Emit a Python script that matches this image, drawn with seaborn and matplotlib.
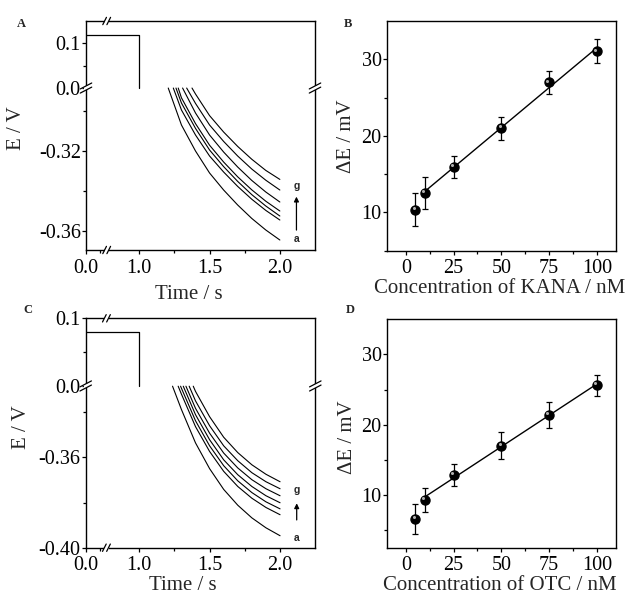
import numpy as np
import matplotlib
matplotlib.use('Agg')
import matplotlib.pyplot as plt
import matplotlib.transforms as mtransforms
from matplotlib.ticker import FixedLocator, NullFormatter
import seaborn as sns

# ---------------- data ----------------
# panel A (KANA): step before 1 s, then decay curves a..g below the break
A_step_t = [0.0, 1.0, 1.0]
A_step_E = [0.118, 0.118, 0.0]
A_t_a = [1.206, 1.3, 1.4, 1.5, 1.6, 1.7, 1.8, 1.9, 2.0]
A_E_a = [-0.2885, -0.307, -0.320, -0.331, -0.3395, -0.347, -0.3537, -0.3595, -0.3645]
A_t_b = [1.242, 1.3, 1.4, 1.5, 1.6, 1.7, 1.8, 1.9, 2.0]
A_E_b = [-0.2885, -0.2995, -0.312, -0.3225, -0.3305, -0.3377, -0.3441, -0.3497, -0.3545]
A_t_c = [1.261, 1.3, 1.4, 1.5, 1.6, 1.7, 1.8, 1.9, 2.0]
A_E_c = [-0.2885, -0.296, -0.3087, -0.3195, -0.3278, -0.3352, -0.3418, -0.3475, -0.3525]
A_t_d = [1.277, 1.3, 1.4, 1.5, 1.6, 1.7, 1.8, 1.9, 2.0]
A_E_d = [-0.2885, -0.2934, -0.3063, -0.3171, -0.3255, -0.3329, -0.3394, -0.3451, -0.350]
A_t_e = [1.308, 1.4, 1.5, 1.6, 1.7, 1.8, 1.9, 2.0]
A_E_e = [-0.2885, -0.301, -0.312, -0.3205, -0.328, -0.3347, -0.3405, -0.3455]
A_t_f = [1.337, 1.4, 1.5, 1.6, 1.7, 1.8, 1.9, 2.0]
A_E_f = [-0.2885, -0.2962, -0.307, -0.3152, -0.3225, -0.329, -0.3346, -0.3395]
A_t_g = [1.375, 1.4, 1.5, 1.6, 1.7, 1.8, 1.9, 2.0]
A_E_g = [-0.2885, -0.2915, -0.3023, -0.3105, -0.3177, -0.3241, -0.3297, -0.3342]

# panel C (OTC)
C_step_t = [0.0, 1.0, 1.0]
C_step_E = [0.08, 0.08, 0.0]
C_t_a = [1.237, 1.3, 1.4, 1.5, 1.6, 1.7, 1.8, 1.9, 2.0]
C_E_a = [-0.3285, -0.3388, -0.3536, -0.3650, -0.3742, -0.3812, -0.3868, -0.3912, -0.3947]
C_t_b = [1.277, 1.3, 1.4, 1.5, 1.6, 1.7, 1.8, 1.9, 2.0]
C_E_b = [-0.3285, -0.3320, -0.3464, -0.3574, -0.3662, -0.3729, -0.3781, -0.3822, -0.3854]
C_t_c = [1.294, 1.3, 1.4, 1.5, 1.6, 1.7, 1.8, 1.9, 2.0]
C_E_c = [-0.3285, -0.3294, -0.3438, -0.3549, -0.3637, -0.3704, -0.3756, -0.3797, -0.3828]
C_t_d = [1.313, 1.4, 1.5, 1.6, 1.7, 1.8, 1.9, 2.0]
C_E_d = [-0.3285, -0.3411, -0.3522, -0.3611, -0.3677, -0.3729, -0.3770, -0.3801]
C_t_e = [1.332, 1.4, 1.5, 1.6, 1.7, 1.8, 1.9, 2.0]
C_E_e = [-0.3285, -0.3383, -0.3493, -0.3581, -0.3647, -0.3699, -0.3739, -0.3770]
C_t_f = [1.355, 1.4, 1.5, 1.6, 1.7, 1.8, 1.9, 2.0]
C_E_f = [-0.3285, -0.3350, -0.3460, -0.3549, -0.3615, -0.3668, -0.3708, -0.3739]
C_t_g = [1.384, 1.4, 1.5, 1.6, 1.7, 1.8, 1.9, 2.0]
C_E_g = [-0.3285, -0.3308, -0.3420, -0.3511, -0.3579, -0.3633, -0.3675, -0.3708]

# panels B and D: calibration
conc = [5, 10, 25, 50, 75, 100]
kana_dE = [10.35, 12.52, 15.99, 20.99, 26.99, 31.03]
kana_err = [2.15, 2.05, 1.43, 1.52, 1.54, 1.58]
otc_dE = [6.58, 9.30, 12.82, 17.04, 21.37, 25.63]
otc_err = [2.10, 1.73, 1.52, 1.88, 1.83, 1.48]

time_ticks = [0.0, 1.0, 1.5, 2.0]
time_labels = ['0.0', '1.0', '1.5', '2.0']
A_yticks = [-0.36, -0.32, 0.0, 0.1]
A_ylabels = ['-0.36', '-0.32', '0.0', '0.1']
C_yticks = [-0.40, -0.36, 0.0, 0.1]
C_ylabels = ['-0.40', '-0.36', '0.0', '0.1']
conc_ticks = [0, 25, 50, 75, 100]
dE_ticks = [10, 20, 30]

# ---------------- style ----------------
sns.set_theme(style='ticks')
plt.rcParams['font.family'] = ['Liberation Serif', 'DejaVu Serif']
plt.rcParams['axes.unicode_minus'] = False
FS_TICK = 14.5
FS_LAB = 15


def broken(lo_min, lo_max, lo_k, hi_min, hi_k):
    # piecewise linear scale, the gap lo_max..hi_min is squeezed to nothing
    u_b = (lo_max - lo_min) * lo_k

    def fwd(v):
        v = np.asarray(v, dtype=float)
        return np.where(v <= lo_max, (v - lo_min) * lo_k,
                        np.where(v >= hi_min, u_b + (v - hi_min) * hi_k, u_b))

    def inv(u):
        u = np.asarray(u, dtype=float)
        return np.where(u <= u_b, lo_min + u / lo_k, hi_min + (u - u_b) / hi_k)
    return fwd, inv


def break_marks(ax, xf, yf):
    kw = dict(transform=ax.transAxes, clip_on=False, color='black', lw=0.9, zorder=6)
    wk = dict(transform=ax.transAxes, clip_on=False, color='white', lw=3, zorder=5,
              solid_capstyle='butt')
    for x in (0, 1):
        ax.plot([x, x], [yf - 0.009, yf + 0.009], **wk)
        for d in (-0.009, 0.009):
            ax.plot([x - 0.025, x + 0.025], [yf + d - 0.013, yf + d + 0.013], **kw)
    for y in (0, 1):
        ax.plot([xf - 0.009, xf + 0.009], [y, y], **wk)
        for d in (-0.009, 0.009):
            ax.plot([xf + d - 0.008, xf + d + 0.008], [y - 0.016, y + 0.016], **kw)


def style_ticks(ax):
    ax.tick_params(which='both', direction='out', top=False, right=False,
                   labelsize=FS_TICK, width=0.9, colors='black')
    ax.tick_params(axis='x', which='both', pad=3)
    ax.tick_params(axis='y', which='both', pad=0.5)
    ax.tick_params(which='major', length=3.2)
    ax.tick_params(which='minor', length=2)
    for s in ax.spines.values():
        s.set_visible(True)
        s.set_linewidth(1.0)
        s.set_color('black')


def transient(ax, step_t, step_E, curves, yscale, ylim, yticks, ylabels, yminor):
    ax.set_xscale('function', functions=broken(0.0, 0.75, 20.7 / 0.75, 0.768, 140.7))
    ax.set_yscale('function', functions=yscale)
    sns.lineplot(x=step_t, y=step_E, ax=ax, color='black', lw=0.9,
                 estimator=None, sort=False)
    for t, E in curves:
        sns.lineplot(x=t, y=E, ax=ax, color='black', lw=0.8,
                     estimator=None, sort=False)
    ax.set_xlim(0, 2.25)
    ax.set_ylim(*ylim)
    ax.xaxis.set_major_locator(FixedLocator(time_ticks))
    ax.set_xticklabels(time_labels)
    ax.xaxis.set_minor_locator(FixedLocator([0.5, 1.25, 1.75]))
    ax.xaxis.set_minor_formatter(NullFormatter())
    ax.yaxis.set_major_locator(FixedLocator(yticks))
    ax.set_yticklabels(ylabels)
    ax.yaxis.set_minor_locator(FixedLocator(yminor))
    ax.yaxis.set_minor_formatter(NullFormatter())
    style_ticks(ax)
    ax.set_xlabel('Time / s', fontsize=FS_LAB)
    ax.set_ylabel('E / V', fontsize=FS_LAB)
    inv = ax.transAxes.inverted()
    xf = inv.transform(ax.transData.transform((0.75, 0.0)))[0]
    yf = inv.transform(ax.transData.transform((1.0, 0.0)))[1]
    break_marks(ax, xf, yf)


def calib(ax, y, err, ylim, xlabel):
    ax.errorbar(conc, y, yerr=err, fmt='o', color='black', ms=6.5, capsize=2.2,
                elinewidth=0.9, capthick=0.9, zorder=3)
    shine = ax.transData + mtransforms.ScaledTranslation(-1.3 / 72, 1.3 / 72,
                                                         ax.figure.dpi_scale_trans)
    ax.plot(conc, y, 'o', ms=2.2, color='#b0b0b0', mec='none', transform=shine, zorder=4)
    sns.regplot(x=conc[1:], y=y[1:], ax=ax, scatter=False, ci=None, truncate=True,
                line_kws=dict(color='black', lw=1.0))
    ax.set_xlim(-10, 110)
    ax.set_ylim(*ylim)
    ax.xaxis.set_major_locator(FixedLocator(conc_ticks))
    ax.xaxis.set_minor_locator(FixedLocator([12.5, 37.5, 62.5, 87.5]))
    ax.yaxis.set_major_locator(FixedLocator(dE_ticks))
    ax.yaxis.set_minor_locator(FixedLocator([5, 15, 25]))
    style_ticks(ax)
    ax.set_xlabel(xlabel, fontsize=FS_LAB)
    ax.set_ylabel('ΔE / mV', fontsize=FS_LAB)


fig = plt.figure(figsize=(6.29, 5.97), dpi=100)
W, H = 629.0, 597.0


def rect(l, t, r, b):
    return [l / W, 1 - b / H, (r - l) / W, (b - t) / H]


axA = fig.add_axes(rect(86, 21, 315, 250))
axB = fig.add_axes(rect(386.7, 21, 616, 250.7))
axC = fig.add_axes(rect(85.7, 318.3, 315.3, 547.7))
axD = fig.add_axes(rect(386.7, 319.3, 616, 547.7))

transient(axA, A_step_t, A_step_E,
          [(A_t_a, A_E_a), (A_t_b, A_E_b), (A_t_c, A_E_c), (A_t_d, A_E_d),
           (A_t_e, A_E_e), (A_t_f, A_E_f), (A_t_g, A_E_g)],
          broken(-0.3695, -0.2885, 2000.0, 0.0, 450.0), (-0.3695, 0.149),
          A_yticks, A_ylabels, [-0.34, -0.30, 0.05])
transient(axC, C_step_t, C_step_E,
          [(C_t_a, C_E_a), (C_t_b, C_E_b), (C_t_c, C_E_c), (C_t_d, C_E_d),
           (C_t_e, C_E_e), (C_t_f, C_E_f), (C_t_g, C_E_g)],
          broken(-0.40, -0.3284, 2250.0, 0.0, 674.0), (-0.40, 0.1),
          C_yticks, C_ylabels, [-0.38, -0.34, 0.05])
calib(axB, kana_dE, kana_err, (5, 35), 'Concentration of KANA / nM')
calib(axD, otc_dE, otc_err, (2.5, 35), 'Concentration of OTC / nM')

axA.yaxis.set_label_coords(-0.264, 0.531)
axA.xaxis.set_label_coords(0.447, -0.153)
axC.yaxis.set_label_coords(-0.238, 0.527)
# bottom label sits right at the figure edge: place it by its baseline
axC.xaxis.label.set_verticalalignment('baseline')
axC.xaxis.set_label_coords(0.421, -0.1845)
axB.yaxis.set_label_coords(-0.136, 0.5)
axB.xaxis.set_label_coords(0.494, -0.1245)
axD.yaxis.set_label_coords(-0.129, 0.486)
axD.xaxis.label.set_verticalalignment('baseline')
axD.xaxis.set_label_coords(0.494, -0.1845)

# a -> g arrows next to the curve ends
for ax, yg, ya, y0, y1 in [(axA, 0.279, 0.047, 0.087, 0.233),
                           (axC, 0.2515, 0.041, 0.121, 0.1935)]:
    ax.text(0.919, yg, 'g', transform=ax.transAxes, ha='center', va='center',
            fontsize=7.5, fontweight='bold', family=['Liberation Sans', 'DejaVu Sans'])
    ax.text(0.919, ya, 'a', transform=ax.transAxes, ha='center', va='center',
            fontsize=7.5, fontweight='bold', family=['Liberation Sans', 'DejaVu Sans'])
    ax.annotate('', xy=(0.919, y1), xytext=(0.919, y0), xycoords='axes fraction',
                arrowprops=dict(arrowstyle='-|>', color='black', lw=0.9,
                                mutation_scale=7, shrinkA=0, shrinkB=0))

# panel letters
for ch, x, y in [('A', 21.7, 24), ('B', 348.3, 24), ('C', 28.3, 310), ('D', 350, 310)]:
    fig.text(x / W, 1 - y / H, ch, ha='center', va='center', fontsize=9,
             fontweight='bold')

fig.savefig('out.png', dpi=100)
